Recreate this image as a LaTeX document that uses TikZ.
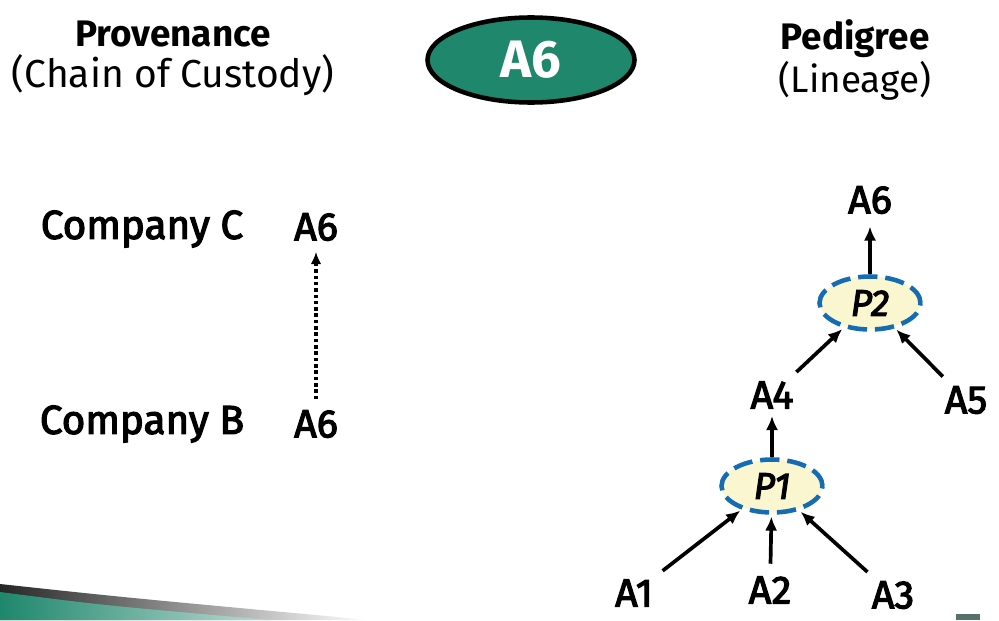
\documentclass[tikz,border=0pt]{standalone}
\usepackage{fontspec}
\setmainfont{Fira Sans}
\newfontfamily\medfont[FakeBold=3]{Fira Sans}
\usetikzlibrary{shapes.geometric}
\usetikzlibrary{arrows.meta}
\definecolor{slideteal}{RGB}{30,135,108}
\definecolor{procfill}{RGB}{250,246,208}
\definecolor{procblue}{RGB}{22,108,178}
\newcommand{\lelabel}{\fontsize{22.5}{26}\selectfont\medfont}
\newcommand{\lehead}{\fontsize{21}{25}\selectfont}

\begin{document}
\begin{tikzpicture}[
  artifact/.style = {inner sep = 1pt, font = \lelabel},
  process/.style = {ellipse, draw = procblue, fill = procfill, line width = 2.6pt,
    dash pattern = on 11pt off 4.5pt, minimum width = 2.02cm, minimum height = 1.06cm,
    inner sep = 0pt, font = \fontsize{21}{25}\selectfont\medfont\itshape},
  use/.style = {-{Latex[length=8pt,width=7pt]}, line width = 2.1pt, shorten <= 2pt, shorten > = 1pt},
]
\useasboundingbox (0,0) rectangle (19.98,12.4);

% headings
\node (prov) at (3.46,11.72) {\lehead\bfseries Provenance};
\node (chain) at (3.46,10.9) {\fontsize{22.2}{26}\selectfont (Chain of Custody)};
\node (ped) at (17.1,11.62) {\lehead\bfseries Pedigree};
\node (lin) at (17.1,10.78) {\lehead (Lineage)};
\node[ellipse, fill = slideteal, draw = black, line width = 2.6pt, minimum width = 4.14cm,
  minimum height = 1.7cm, text = white, font = \fontsize{30}{34}\selectfont\bfseries]
  (item) at (10.62,11.2) {A6};

% chain of custody
\node[font = \fontsize{23}{27}\selectfont\medfont] (compc) at (2.84,7.82) {Company C};
\node[font = \fontsize{23}{27}\selectfont\medfont] (compb) at (2.84,3.92) {Company B};
\node[artifact] (heldc) at (6.32,7.86) {A6};
\node[artifact] (heldb) at (6.32,3.92) {A6};
\draw[-{Latex[length=7pt,width=6pt]}, line width = 2.1pt, dash pattern = on 2pt off 1.6pt,
  shorten <= 5pt, shorten > = 5pt] (heldb) -- (heldc);

% lineage tree
\node[artifact] (a6) at (17.4,8.4) {A6};
\node[process] (p2) at (17.4,6.34) {P2};
\node[artifact] (a4) at (15.44,4.5) {A4};
\node[artifact] (a5) at (19.32,4.4) {A5};
\node[process] (p1) at (15.44,2.68) {P1};
\node[artifact] (a1) at (12.68,0.54) {A1};
\node[artifact] (a2) at (15.4,0.6) {A2};
\node[artifact] (a3) at (17.86,0.5) {A3};

\draw[use, shorten <= 0pt, shorten > = 6pt] (p2) -- (a6);
\draw[use, shorten <= 0pt, shorten > = 3pt] (p1) -- (a4);
\foreach \a in {a4,a5} {
  \draw[use, shorten <= 6pt] (\a) -- (p2);
}
\foreach \a in {a1,a2,a3} {
  \draw[use, shorten <= 6pt] (\a) -- (p1);
}

% slide trim
\shade[left color = black!85, right color = white]
  (0,0) -- (0,0.72) .. controls (2.5,0.45) .. (7.4,0) -- cycle;
\shade[left color = slideteal, right color = slideteal!30]
  (0,0) -- (0,0.56) .. controls (2,0.3) .. (5.4,0) -- cycle;
\fill[black!60!slideteal, opacity = 0.7] (19.12,0) rectangle (19.6,0.12);
\end{tikzpicture}
\end{document}
